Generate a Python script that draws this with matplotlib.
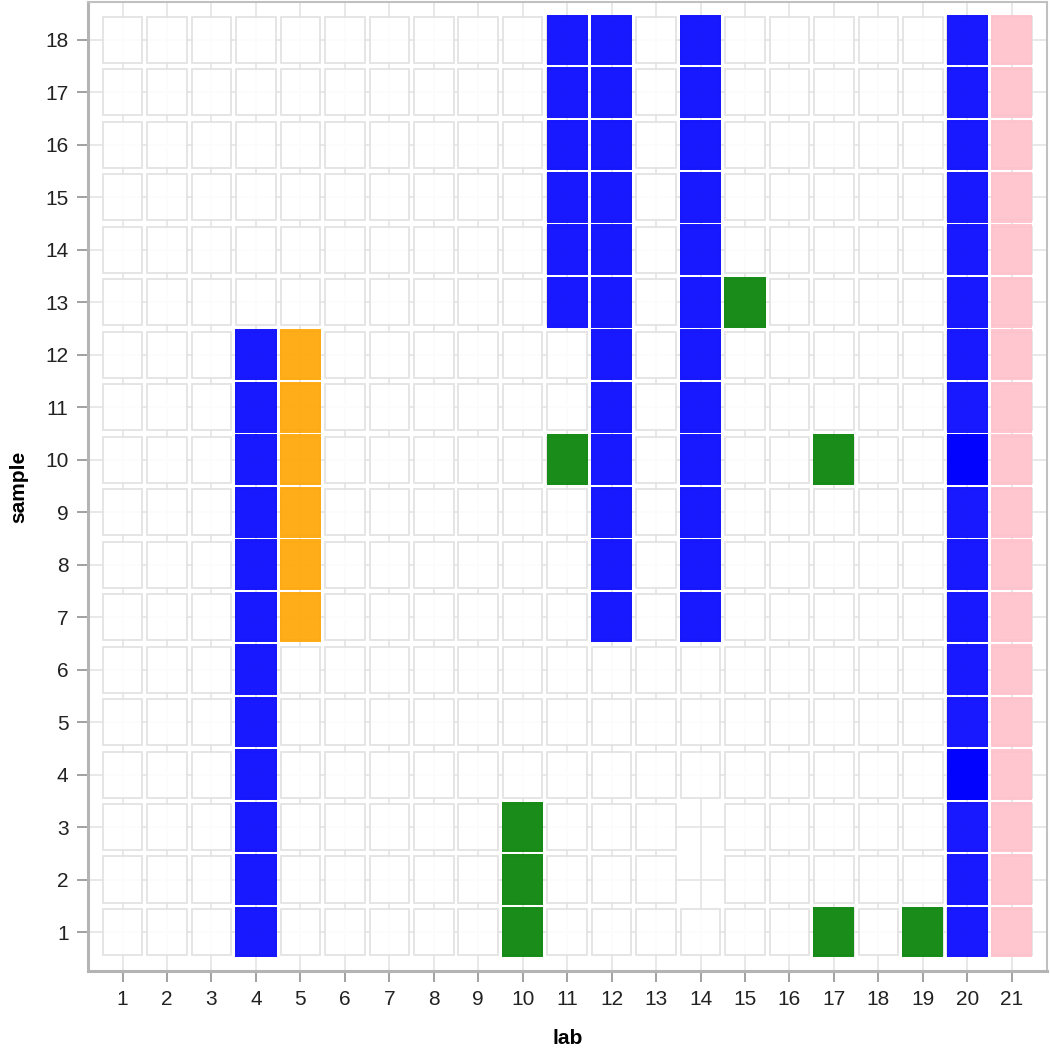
import numpy as np
import matplotlib
matplotlib.use("Agg")
import matplotlib.pyplot as plt

plt.rcParams['font.family'] = ['Liberation Sans', 'DejaVu Sans']

labs = list(range(1, 22))
samples = list(range(1, 19))

# cells with no box at all
empty_lab = [14, 14]
empty_sample = [2, 3]

blue_lab = [4]*12 + [11]*6 + [12]*12 + [14]*12 + [20]*18
blue_sample = ([1, 2, 3, 4, 5, 6, 7, 8, 9, 10, 11, 12]
               + [13, 14, 15, 16, 17, 18]
               + [7, 8, 9, 10, 11, 12, 13, 14, 15, 16, 17, 18]
               + [7, 8, 9, 10, 11, 12, 13, 14, 15, 16, 17, 18]
               + [1, 2, 3, 4, 5, 6, 7, 8, 9, 10, 11, 12, 13, 14, 15, 16, 17, 18])

# drawn twice in the source, so they look darker
double_lab = [20, 20]
double_sample = [4, 10]

orange_lab = [5, 5, 5, 5, 5, 5]
orange_sample = [7, 8, 9, 10, 11, 12]

green_lab = [10, 10, 10, 11, 15, 17, 17, 19]
green_sample = [1, 2, 3, 10, 13, 10, 1, 1]

pink_lab = [21]*18
pink_sample = [1, 2, 3, 4, 5, 6, 7, 8, 9, 10, 11, 12, 13, 14, 15, 16, 17, 18]

fig = plt.figure(figsize=(10.5, 10.5), dpi=100)
ax = fig.add_axes([0.0838, 0.0752, 0.9132, 0.9228])

# background boxes
skip = set(zip(empty_lab, empty_sample))
bx, by = [], []
for s in samples:
  for l in labs:
    if (l, s) not in skip:
      bx.append(l)
      by.append(s)
by = np.array(by)
ax.bar(bx, 0.88, bottom=by - 0.44, width=0.89, color='white',
       edgecolor='#e0e0e0', linewidth=1.3, alpha=0.9, zorder=2)


def cells(lab, sample, color):
  sample = np.array(sample)
  ax.bar(lab, 0.965, bottom=sample - 0.4825, width=0.925, color=color,
         edgecolor='none', alpha=0.9, zorder=3)


cells(blue_lab, blue_sample, 'blue')
cells(double_lab, double_sample, 'blue')
cells(orange_lab, orange_sample, 'orange')
cells(green_lab, green_sample, 'green')
cells(pink_lab, pink_sample, 'pink')

ax.set_xlim(0.222, 21.79)
ax.set_ylim(0.257, 18.72)
ax.set_xticks(labs)
ax.set_yticks(samples)
ax.grid(True, color='#e4e4e4', linewidth=1.2, zorder=1)
ax.set_axisbelow(True)

for side in ['left', 'bottom']:
  ax.spines[side].set_color('#b4b4b4')
  ax.spines[side].set_linewidth(2.2)
for side in ['top', 'right']:
  ax.spines[side].set_color('#c0c0c0')
  ax.spines[side].set_linewidth(1.5)

ax.tick_params(length=8, width=1.3, color='#9a9a9a', labelsize=15,
               labelcolor='#222222', pad=6)
ax.set_xlabel('lab', fontsize=15, fontweight='bold', labelpad=14)
ax.set_ylabel('sample', fontsize=15, fontweight='bold', labelpad=12)

fig.savefig('out.png', dpi=100)
